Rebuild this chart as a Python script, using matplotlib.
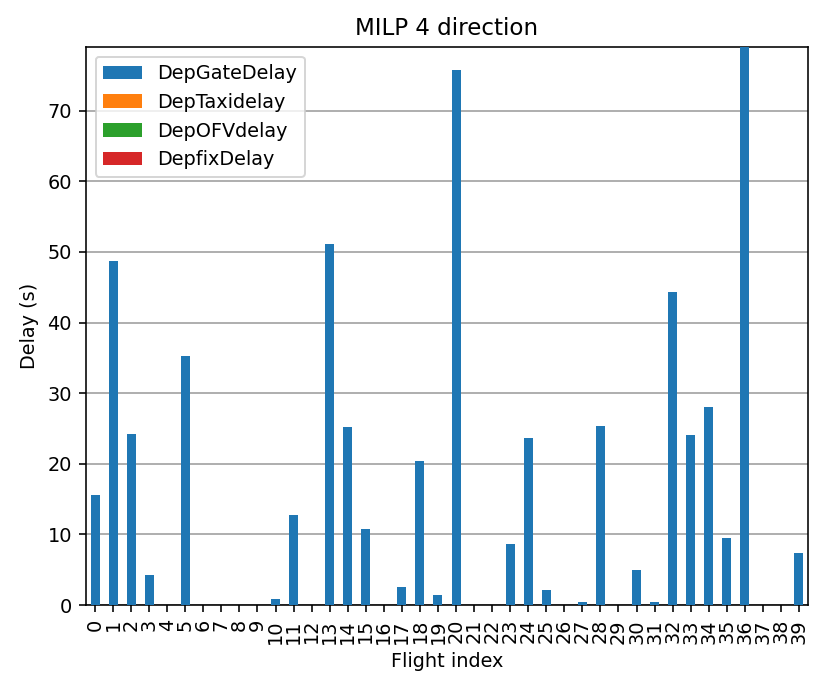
import matplotlib
matplotlib.use("Agg")
import matplotlib.pyplot as plt
import numpy as np
import pandas as pd

# departure delays per flight (s)
flights = list(range(40))
dep_gate_delay = [15.6, 48.7, 24.2, 4.2, 0.0, 35.3, 0.0, 0.0, 0.0, 0.0,
                  0.9, 12.8, 0.0, 51.1, 25.2, 10.8, 0.0, 2.6, 20.4, 1.4,
                  75.8, 0.0, 0.0, 8.6, 23.7, 2.1, 0.0, 0.4, 25.3, 0.0,
                  5.0, 0.4, 44.3, 24.1, 28.0, 9.5, 79.0, 0.0, 0.0, 7.3]
dep_taxi_delay = [0.0] * 40
dep_ofv_delay = [0.0] * 40
dep_fix_delay = [0.0] * 40

df = pd.DataFrame({
    "DepGateDelay": dep_gate_delay,
    "DepTaxidelay": dep_taxi_delay,
    "DepOFVdelay": dep_ofv_delay,
    "DepfixDelay": dep_fix_delay,
}, index=flights)

plt.rcParams['font.size'] = 9.6

dpi = 144
fig = plt.figure(figsize=(830 / dpi, 692 / dpi), dpi=dpi)
ax = fig.add_axes([0.1036, 0.1257, 0.8699, 0.8063])

df.plot(kind="bar", stacked=True, ax=ax, zorder=3)
ax.grid(axis="y", color="#b0b0b0", linewidth=1.0, zorder=0)
ax.set_axisbelow(True)
ax.set_ylim(0, 79.0)
ax.set_title("MILP 4 direction")
ax.set_xlabel("Flight index")
ax.set_ylabel("Delay (s)")
ax.legend(loc="upper left")

fig.savefig("out.png", dpi=dpi)
